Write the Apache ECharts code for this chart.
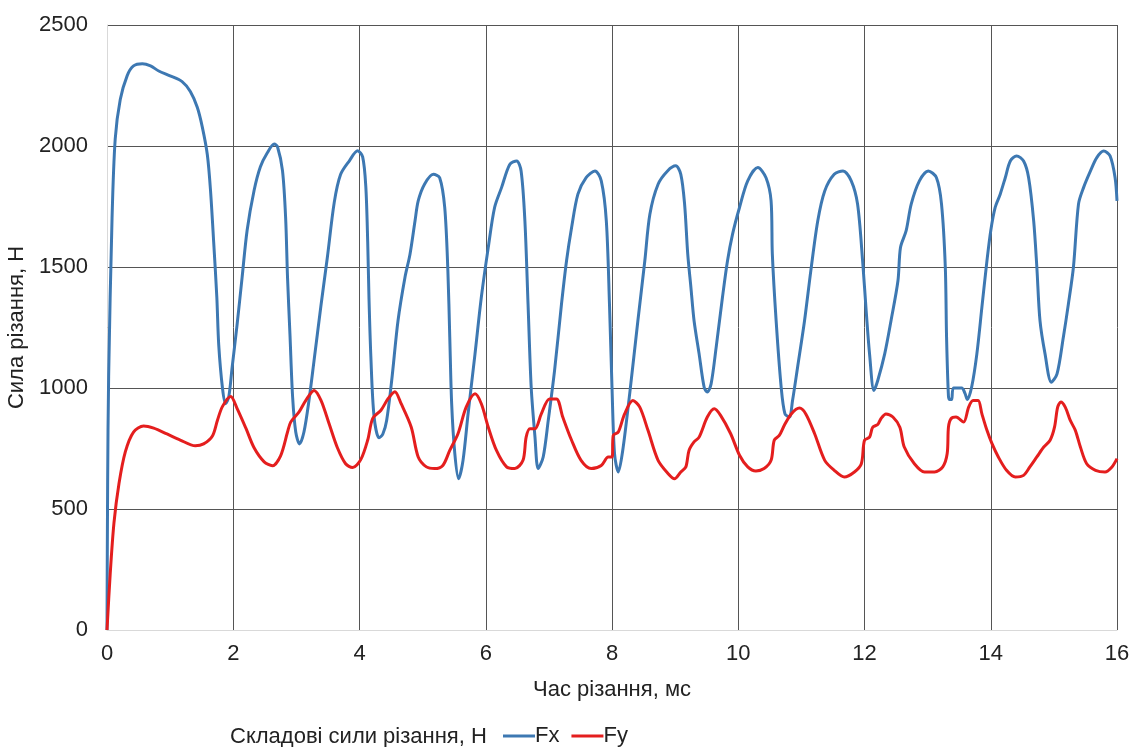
<!DOCTYPE html>
<html>
<head>
<meta charset="utf-8">
<script src="https://cdn.jsdelivr.net/npm/echarts@6/dist/echarts.min.js"></script>
<style>
  html, body { margin: 0; padding: 0; background: #fff; }
  #chart { width: 1130px; height: 747px; }
</style>
</head>
<body>
<div id="chart"></div>
<script>
// час різання, мс -> сила, Н
const fxPoints = [
  [0,0],[0.01,600],[0.026,1047],[0.08,1702],[0.13,2029],[0.21,2192],[0.32,2291],[0.42,2331],[0.56,2340],
  [0.69,2331],[0.82,2310],[1.0,2290],[1.19,2266],[1.32,2225],[1.43,2160],[1.51,2078],[1.59,1963],
  [1.64,1816],[1.69,1603],[1.74,1374],[1.77,1178],[1.83,998],[1.88,935],[1.93,965],[1.98,1080],
  [2.06,1260],[2.14,1456],[2.22,1652],[2.33,1816],[2.43,1914],[2.54,1972],[2.65,2008],[2.7,1998],
  [2.78,1898],[2.83,1702],[2.86,1456],[2.9,1211],[2.94,965],[2.99,818],[3.05,769],[3.12,818],
  [3.2,949],[3.28,1113],[3.39,1342],[3.49,1538],[3.6,1767],[3.7,1882],[3.84,1939],[3.97,1980],
  [4.05,1955],[4.1,1832],[4.13,1603],[4.15,1374],[4.18,1129],[4.23,884],[4.31,794],[4.37,810],
  [4.43,866],[4.51,1031],[4.61,1278],[4.72,1457],[4.8,1553],[4.88,1691],[4.93,1773],[5.03,1842],
  [5.17,1883],[5.27,1869],[5.35,1746],[5.4,1485],[5.43,1210],[5.46,935],[5.51,729],[5.57,625],
  [5.64,701],[5.72,893],[5.83,1141],[5.93,1375],[6.04,1581],[6.14,1746],[6.25,1828],[6.38,1924],
  [6.49,1938],[6.56,1897],[6.62,1691],[6.67,1347],[6.72,1003],[6.78,797],[6.83,667],[6.91,715],
  [6.99,866],[7.09,1072],[7.2,1347],[7.28,1526],[7.36,1663],[7.46,1801],[7.59,1869],[7.73,1897],
  [7.83,1856],[7.91,1691],[7.96,1347],[8.0,1003],[8.04,729],[8.1,653],[8.17,742],[8.28,976],
  [8.41,1278],[8.52,1526],[8.6,1718],[8.73,1842],[8.88,1897],[9.01,1918],[9.09,1883],[9.15,1760],
  [9.2,1553],[9.25,1416],[9.3,1278],[9.38,1141],[9.46,1003],[9.51,983],[9.57,1017],[9.65,1168],
  [9.75,1375],[9.83,1526],[9.91,1636],[10.02,1746],[10.15,1856],[10.31,1911],[10.44,1869],
  [10.52,1773],[10.54,1553],[10.6,1278],[10.68,1003],[10.74,893],[10.81,880],[10.86,948],
  [10.94,1086],[11.05,1278],[11.15,1485],[11.26,1691],[11.37,1814],[11.52,1883],[11.66,1897],
  [11.79,1856],[11.89,1760],[11.97,1526],[12.03,1306],[12.08,1141],[12.15,990],[12.21,1031],
  [12.32,1141],[12.42,1278],[12.53,1443],[12.57,1581],[12.66,1650],[12.74,1760],[12.87,1856],
  [13.01,1897],[13.14,1869],[13.22,1760],[13.28,1500],[13.3,1210],[13.33,966],[13.35,952],
  [13.38,952],[13.41,1000],[13.54,1000],[13.59,979],[13.63,952],[13.7,1007],[13.78,1141],
  [13.86,1334],[13.94,1526],[14.0,1650],[14.07,1746],[14.15,1801],[14.23,1869],[14.31,1938],
  [14.41,1959],[14.52,1938],[14.6,1869],[14.68,1691],[14.73,1500],[14.78,1278],[14.86,1141],
  [14.96,1024],[15.05,1058],[15.15,1210],[15.23,1347],[15.31,1500],[15.39,1760],[15.47,1828],
  [15.58,1897],[15.68,1952],[15.79,1979],[15.89,1959],[15.97,1869],[16.0,1773]
];

const fyPoints = [
  [0,0],[0.05,229],[0.11,442],[0.19,605],[0.29,736],[0.42,818],[0.58,843],[0.74,834],[0.95,810],
  [1.16,785],[1.4,761],[1.53,769],[1.67,802],[1.75,867],[1.83,924],[1.96,965],[2.06,916],[2.2,834],
  [2.33,753],[2.49,695],[2.62,679],[2.75,720],[2.86,818],[2.91,859],[3.04,900],[3.15,949],[3.28,990],
  [3.39,949],[3.52,851],[3.65,753],[3.78,687],[3.89,671],[4.02,704],[4.13,785],[4.21,875],[4.34,908],
  [4.45,955],[4.56,985],[4.66,935],[4.82,838],[4.93,715],[5.06,674],[5.19,667],[5.32,680],[5.43,742],
  [5.56,811],[5.69,921],[5.83,976],[5.93,935],[6.04,838],[6.17,742],[6.33,674],[6.46,667],[6.59,701],
  [6.64,797],[6.7,832],[6.78,832],[6.88,893],[7.01,955],[7.12,955],[7.22,880],[7.36,784],[7.51,701],
  [7.67,667],[7.83,680],[7.94,715],[8.0,715],[8.02,804],[8.1,818],[8.2,893],[8.33,948],[8.44,921],
  [8.57,825],[8.73,701],[8.89,646],[8.99,625],[9.09,653],[9.17,674],[9.22,742],[9.3,777],[9.38,797],
  [9.51,880],[9.62,914],[9.72,887],[9.88,811],[10.02,722],[10.15,674],[10.28,657],[10.41,667],
  [10.52,701],[10.57,784],[10.65,804],[10.73,846],[10.84,893],[10.97,917],[11.07,893],[11.21,811],
  [11.37,701],[11.52,660],[11.68,632],[11.84,653],[11.95,687],[12.0,784],[12.08,797],[12.13,838],
  [12.21,849],[12.26,873],[12.34,893],[12.45,880],[12.56,838],[12.63,756],[12.79,687],[12.95,653],
  [13.11,653],[13.24,674],[13.31,729],[13.33,838],[13.37,873],[13.45,880],[13.57,859],[13.65,921],
  [13.72,948],[13.8,948],[13.86,893],[13.94,825],[14.02,770],[14.12,715],[14.25,660],[14.39,632],
  [14.52,639],[14.62,674],[14.73,715],[14.84,756],[14.94,784],[15.01,838],[15.06,921],[15.11,942],
  [15.18,921],[15.26,866],[15.34,825],[15.42,756],[15.52,687],[15.66,660],[15.81,653],[15.92,674],
  [16.0,708]
];

const seriesNames = ['Fx', 'Fy'];
const xAxisTitle = 'Час різання, мс';
const yAxisTitle = 'Сила різання, Н';
const legendTitle = 'Складові сили різання, Н';

const font = 'Liberation Sans, Arial, sans-serif';
const myChart = echarts.init(document.getElementById('chart'), null, { renderer: 'canvas' });

myChart.setOption({
  animation: false,
  color: ['#3d78b2', '#e41e1e'],
  textStyle: { fontFamily: font },
  grid: { left: 107, right: 13, top: 25, bottom: 117, outerBoundsMode: 'none', containLabel: false },
  xAxis: {
    type: 'value',
    min: 0, max: 16, interval: 2,
    name: xAxisTitle,
    nameLocation: 'middle',
    nameGap: 49,
    nameTextStyle: { fontSize: 22, color: '#222', fontFamily: font },
    axisLine: { lineStyle: { color: '#d9d9d9', width: 1 } },
    axisTick: { show: false },
    axisLabel: { fontSize: 22, color: '#222', margin: 13 },
    splitLine: { lineStyle: { color: '#555', width: 1 } }
  },
  yAxis: {
    type: 'value',
    min: 0, max: 2500, interval: 500,
    name: yAxisTitle,
    nameLocation: 'middle',
    nameGap: 75,
    nameTextStyle: { fontSize: 22, color: '#222', fontFamily: font },
    axisLine: { show: true, lineStyle: { color: '#d9d9d9', width: 1 } },
    axisTick: { show: false },
    axisLabel: { fontSize: 22, color: '#222', margin: 19, formatter: v => String(v) },
    splitLine: { lineStyle: { color: '#555', width: 1 } }
  },
  legend: {
    left: 503,
    top: 725,
    padding: 0,
    itemGap: 12,
    itemWidth: 32,
    itemHeight: 3,
    icon: 'rect',
    textStyle: { fontSize: 22, color: '#222', padding: [0, 0, 0, -5] },
    data: seriesNames
  },
  graphic: [{
    type: 'text',
    left: 230,
    top: 726,
    style: { text: legendTitle, fontSize: 22, fill: '#222', fontFamily: font }
  }],
  series: [
    {
      name: seriesNames[0],
      type: 'line',
      data: fxPoints,
      showSymbol: false,
      smooth: 0.3,
      lineStyle: { width: 3 }
    },
    {
      name: seriesNames[1],
      type: 'line',
      data: fyPoints,
      showSymbol: false,
      smooth: 0.3,
      lineStyle: { width: 3 }
    }
  ]
});
</script>
</body>
</html>
